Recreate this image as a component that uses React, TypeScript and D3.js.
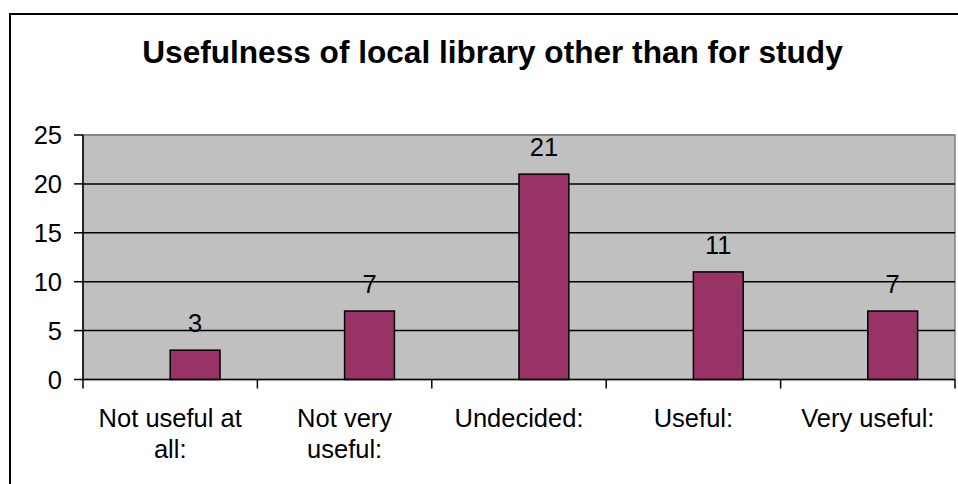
import React from "react";
import * as d3 from "d3";

const categories: string[][] = [
  ["Not useful at", "all:"],
  ["Not very", "useful:"],
  ["Undecided:"],
  ["Useful:"],
  ["Very useful:"],
];
const values: number[] = [3, 7, 21, 11, 7];
const yTicks: number[] = [0, 5, 10, 15, 20, 25];
const title = "Usefulness of local library other than for study";

export default function App() {
  const W = 958;
  const H = 484;
  const plot = { left: 83, right: 955, top: 135, bottom: 379.5 };
  const font = "'Liberation Sans', Arial, sans-serif";

  const x = d3
    .scaleBand<number>()
    .domain(categories.map((_, i) => i))
    .range([plot.left, plot.right])
    .paddingInner(0)
    .paddingOuter(0);
  const y = d3.scaleLinear().domain([0, 25]).range([plot.bottom, plot.top]);
  const bw = x.bandwidth() / 3.5;

  return (
    <svg
      width={W}
      height={H}
      style={{ position: "absolute", left: 0, top: 0, display: "block", background: "#fff" }}
      fontFamily={font}
    >
      <rect x={0} y={0} width={W} height={H} fill="#fff" />
      {/* outer chart border */}
      <rect x={10} y={14} width={W + 20} height={H + 20} fill="none" stroke="#000" strokeWidth={2} />
      <text x={492.5} y={63} textAnchor="middle" fontSize={31.6} fontWeight="bold" fill="#000">
        {title}
      </text>
      {/* plot area */}
      <rect
        x={plot.left}
        y={plot.top}
        width={plot.right - plot.left}
        height={plot.bottom - plot.top}
        fill="#C0C0C0"
        stroke="#808080"
        strokeWidth={1.5}
      />
      {/* gridlines */}
      {yTicks.slice(1).map((t) => (
        <line
          key={"g" + t}
          x1={plot.left}
          x2={plot.right}
          y1={y(t)}
          y2={y(t)}
          stroke={t === 25 ? "#808080" : "#000"}
          strokeWidth={1.5}
        />
      ))}
      {/* bars */}
      {values.map((v, i) => {
        const cx = (x(i) as number) + x.bandwidth() / 2;
        return (
          <g key={"b" + i}>
            <rect
              x={cx}
              y={y(v)}
              width={bw}
              height={y(0) - y(v)}
              fill="#993366"
              stroke="#000"
              strokeWidth={1.5}
            />
            <text x={cx + bw / 2} y={y(v) - 18} textAnchor="middle" fontSize={25.5} fill="#000">
              {v}
            </text>
          </g>
        );
      })}
      {/* y axis */}
      <line x1={plot.left} x2={plot.left} y1={plot.top} y2={plot.bottom} stroke="#000" strokeWidth={1.5} />
      {yTicks.map((t) => (
        <g key={"yt" + t}>
          <line x1={plot.left - 9} x2={plot.left} y1={y(t)} y2={y(t)} stroke="#000" strokeWidth={1.5} />
          <text x={62} y={y(t) + 9} textAnchor="end" fontSize={25.5} fill="#000">
            {t}
          </text>
        </g>
      ))}
      {/* x axis */}
      <line x1={plot.left} x2={plot.right} y1={plot.bottom} y2={plot.bottom} stroke="#000" strokeWidth={1.5} />
      {categories.map((_, i) => (
        <line
          key={"xt" + i}
          x1={(x(i) as number) + x.bandwidth()}
          x2={(x(i) as number) + x.bandwidth()}
          y1={plot.bottom}
          y2={plot.bottom + 9}
          stroke="#000"
          strokeWidth={1.5}
        />
      ))}
      <line x1={plot.left} x2={plot.left} y1={plot.bottom} y2={plot.bottom + 9} stroke="#000" strokeWidth={1.5} />
      {categories.map((lines, i) => {
        const cx = (x(i) as number) + x.bandwidth() / 2;
        return (
          <text key={"xl" + i} x={cx} textAnchor="middle" fontSize={25.5} fill="#000">
            {lines.map((l, j) => (
              <tspan key={j} x={cx} y={427 + j * 31}>
                {l}
              </tspan>
            ))}
          </text>
        );
      })}
    </svg>
  );
}
